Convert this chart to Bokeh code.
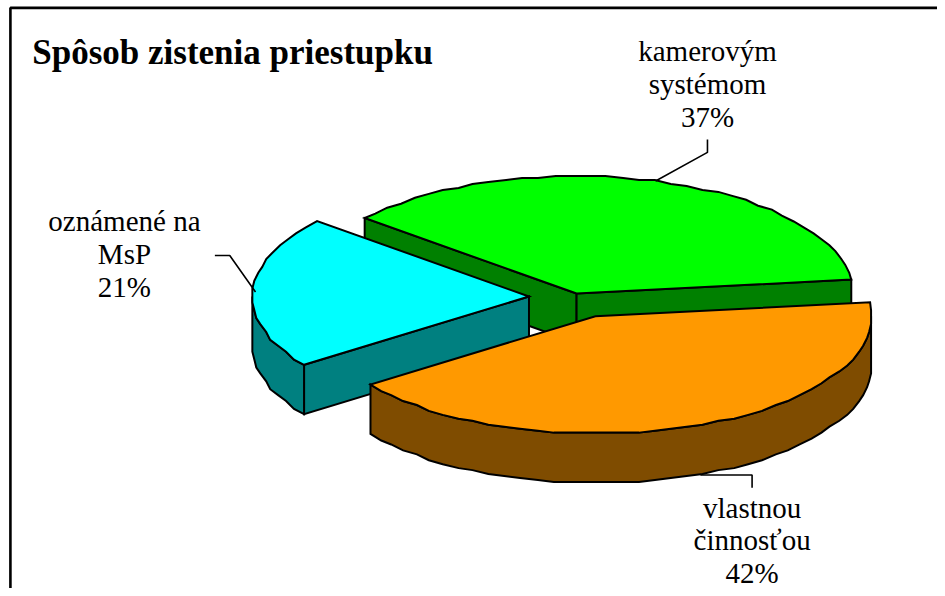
import numpy as np
from bokeh.plotting import figure
from bokeh.models import Range1d
from bokeh.core.properties import value
from bokeh.embed import file_html
from bokeh.resources import INLINE

title = "Spôsob zistenia priestupku"
categories = ["kamerovým systémom", "vlastnou činnosťou", "oznámené na MsP"]
percents = [37, 42, 21]
top_colors = ["#00FF00", "#FF9900", "#00FFFF"]
side_colors = ["#008000", "#7F4C00", "#008080"]
label_lines = [["kamerovým", "systémom", "37%"],
               ["vlastnou", "činnosťou", "42%"],
               ["oznámené na", "MsP", "21%"]]

# layout (pixels of the reference)
centers = [(581, 297), (600, 320), (533, 300)]
RX, RY, DEPTH = 279, 119, 50
START = 140.0
label_x = [713, 758, 125]
label_mid = [51, 514, 224]
LINE_H = [33.5, 33, 33]

W, H = 937, 588
p = figure(width=W, height=H, output_backend="svg", toolbar_location=None,
           x_range=Range1d(0, 945), y_range=Range1d(596, 0),
           min_border=0, margin=(0, -8, -8, 0))
p.axis.visible = False
p.grid.visible = False
p.outline_line_color = None
p.background_fill_color = "white"
p.border_fill_color = "white"

# frame
p.line([10, 10, 945], [596, 7.5, 7.5], line_color="black", line_width=2.6)


def arc(cx, cy, a0, a1):
    n = max(2, int(abs(a1 - a0) / 3.5))
    t = np.radians(np.linspace(a0, a1, n + 1))
    x = cx + RX * np.cos(t)
    y = cy - RY * np.sin(t)
    # the reference has a coarse, stair-stepped rim
    xr = np.round(x / 2) * 2
    yr = np.round(y / 2) * 2
    xr[0], yr[0], xr[-1], yr[-1] = x[0], y[0], x[-1], y[-1]
    return xr, yr


# slices as clockwise spans
spans = []
a = START
for v in percents:
    spans.append((a, a - v * 3.6))
    a -= v * 3.6

kw = dict(line_color="black", line_width=2, line_join="miter")
for i in [0, 2, 1]:  # painter's order: back slice first
    a0, a1 = spans[i]
    cx, cy = centers[i]
    ax, ay = arc(cx, cy, a0, a1)
    # radial faces that look at the viewer
    if np.sin(np.radians(a0 + 90)) < 0:
        xs = [ax[0], cx, cx, ax[0]]
        ys = [ay[0], cy, cy + DEPTH, ay[0] + DEPTH]
        p.patch(xs, ys, fill_color=side_colors[i], **kw)
    # rim, only the part in the front half
    mask = np.sin(np.radians(np.linspace(a0, a1, len(ax)))) < 0.02
    if mask.any():
        rx, ry = ax[mask], ay[mask]
        p.patch(np.r_[rx, rx[::-1]], np.r_[ry, ry[::-1] + DEPTH],
                fill_color=side_colors[i], **kw)
    if np.sin(np.radians(a1 - 90)) < 0:
        xs = [ax[-1], cx, cx, ax[-1]]
        ys = [ay[-1], cy, cy + DEPTH, ay[-1] + DEPTH]
        p.patch(xs, ys, fill_color=side_colors[i], **kw)
    # top face
    p.patch(np.r_[cx, ax], np.r_[cy, ay], fill_color=top_colors[i], **kw)

# leader lines start on the rim at each slice's mid angle
for i, (a0, a1) in enumerate(spans):
    m = np.radians((a0 + a1) / 2)
    cx, cy = centers[i]
    ex = cx + RX * np.cos(m)
    ey = cy - RY * np.sin(m)
    if np.sin(m) < 0:
        ey += DEPTH
    lx = label_x[i]
    if i == 0:
        xs, ys = [ex, lx, lx], [ey, ey - 29, ey - 42]
    elif i == 1:
        xs, ys = [ex + 5, lx, lx], [ey, ey, ey + 13]
    else:
        xs, ys = [ex + 3, ex - 23, ex - 38], [ey, ey - 37, ey - 37]
    p.line(xs, ys, line_color="black", line_width=1.6)

for i, lines in enumerate(label_lines):
    p.text([label_x[i]] * 3, [label_mid[i] + k * LINE_H[i] for k in range(3)], text=lines,
           text_font=value("Liberation Serif"), text_font_size="29px",
           text_align="center", text_baseline="alphabetic", text_color="black")

p.text([32], [53], text=[title], text_font=value("Liberation Serif"),
       text_font_style="bold", text_font_size="35px", text_align="left",
       text_baseline="alphabetic", text_color="black")

open("out.html", "w").write(file_html(p, INLINE))
